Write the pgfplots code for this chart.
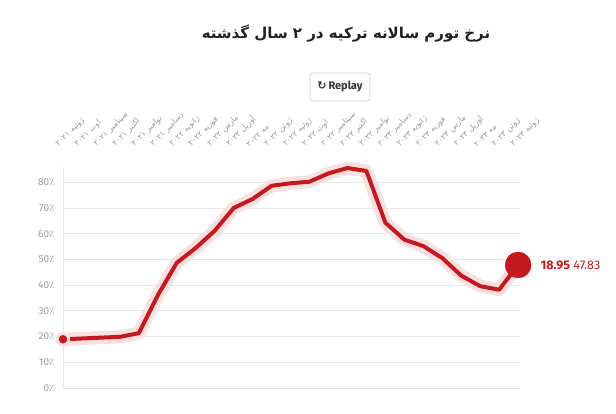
\documentclass[border=0pt]{standalone}
\usepackage{fontspec}
\usepackage{pgfplots}
\usepackage{pgfplotstable}
\pgfplotsset{compat=1.18}
\setmainfont{Fira Sans}
\newfontfamily\fa[Script=Arabic]{DejaVu Sans}
\newfontfamily\dv{DejaVu Sans}
\TeXXeTstate=1
\definecolor{linered}{HTML}{C41A1F}
\definecolor{halo}{HTML}{F9E0E0}
\definecolor{tickgray}{HTML}{9A9A9A}
\definecolor{gridgray}{HTML}{E6E6E6}
\newcommand{\xl}[2]{{\fa\beginR #1 \beginL#2\endL\endR}}
\newcommand{\pct}{{\dv ٪}}

\pgfplotstableread{
idx val
0 18.95
1 19.25
2 19.58
3 19.89
4 21.31
5 36.08
6 48.69
7 54.44
8 61.14
9 69.97
10 73.50
11 78.62
12 79.60
13 80.21
14 83.45
15 85.51
16 84.39
17 64.27
18 57.68
19 55.18
20 50.51
21 43.68
22 39.59
23 38.21
24 47.83
}\inflation

\begin{document}
\begin{tikzpicture}
\path[use as bounding box, fill=white] (0pt,0pt) rectangle (616pt,413pt);
\node[font=\fa\bfseries\fontsize{15}{18}\selectfont, text=black!87] at (346pt,379pt) {\beginR نرخ تورم سالانه ترکیه در ۲ سال گذشته\endR};
\draw[rounded corners=3pt, draw=black!18, line width=0.8pt] (310pt,312pt) rectangle (370pt,340pt);
\node[font=\bfseries\fontsize{11}{13}\selectfont, text=black!80] at (340pt,326pt) {{\dv\bfseries ↻}\,Replay};

\begin{axis}[
  at={(63pt,25pt)}, anchor=origin, scale only axis,
  width=457pt, height=221.2pt,
  xmin=0, xmax=24.1, ymin=0, ymax=86,
  axis x line*=top, axis y line*=left,
  x axis line style={draw=none},
  y axis line style={draw=gridgray, line width=0.8pt},
  major tick length=0pt,
  ymajorgrids, grid style={gridgray, line width=0.8pt},
  ytick={0,10,...,80},
  yticklabels={0\pct,10\pct,20\pct,30\pct,40\pct,50\pct,60\pct,70\pct,80\pct},
  yticklabel style={xshift=-5pt, font=\fontsize{10}{12}\selectfont, text=tickgray},
  xtick={0,...,24},
  xticklabels={
    {\xl{ژوئیه}{۲۰۲۱}},{\xl{اوت}{۲۰۲۱}},{\xl{سپتامبر}{۲۰۲۱}},{\xl{اکتبر}{۲۰۲۱}},
    {\xl{نوامبر}{۲۰۲۱}},{\xl{دسامبر}{۲۰۲۱}},{\xl{ژانویه}{۲۰۲۲}},{\xl{فوریه}{۲۰۲۲}},
    {\xl{مارس}{۲۰۲۲}},{\xl{آوریل}{۲۰۲۲}},{\xl{مه}{۲۰۲۲}},{\xl{ژوئن}{۲۰۲۲}},
    {\xl{ژوئیه}{۲۰۲۲}},{\xl{اوت}{۲۰۲۲}},{\xl{سپتامبر}{۲۰۲۲}},{\xl{اکتبر}{۲۰۲۲}},
    {\xl{نوامبر}{۲۰۲۲}},{\xl{دسامبر}{۲۰۲۲}},{\xl{ژانویه}{۲۰۲۳}},{\xl{فوریه}{۲۰۲۳}},
    {\xl{مارس}{۲۰۲۳}},{\xl{آوریل}{۲۰۲۳}},{\xl{مه}{۲۰۲۳}},{\xl{ژوئن}{۲۰۲۳}},
    {\xl{ژوئیه}{۲۰۲۳}}},
  xticklabel style={xshift=-3pt, yshift=14pt, rotate=45, anchor=south west,
    font=\fontsize{8}{9}\selectfont, text=tickgray},
  clip=false,
]
\addplot[halo, line width=13pt, line join=round, line cap=round] table[x=idx,y=val] {\inflation};
\addplot[linered, line width=4pt, line join=round] table[x=idx,y=val] {\inflation};
\addplot[only marks, mark=*, mark size=7pt, color=halo] coordinates {(0,18.95)};
\addplot[only marks, mark=*, mark size=4pt, color=linered] coordinates {(0,18.95)};
\addplot[only marks, mark=*, mark size=13pt, color=linered] coordinates {(24,47.83)};
\node[anchor=west, text=linered, font=\fontsize{12.5}{15}\selectfont, xshift=19pt] at (axis cs:24,47.83) {\textbf{18.95} 47.83};
\end{axis}
\end{tikzpicture}
\end{document}
